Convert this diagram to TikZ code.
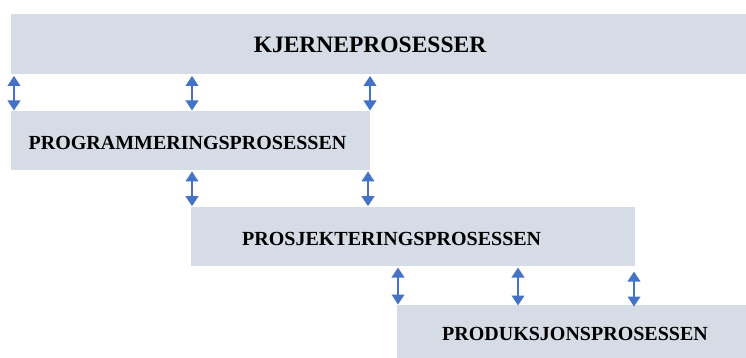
\documentclass[tikz,border=0pt]{standalone}
\usepackage{fontspec}
\setmainfont{Liberation Serif}
\usetikzlibrary{arrows.meta}
\definecolor{boxfill}{HTML}{D6DCE5}
\definecolor{linkblue}{HTML}{4472C4}
\begin{document}
\begin{tikzpicture}[x=1pt,y=-1pt,
  procbox/.style={fill=boxfill,draw=none,inner sep=0pt,anchor=north west},
  proclabel/.style={font=\bfseries\fontsize{20}{24}\selectfont,inner sep=0pt},
  biglabel/.style={font=\bfseries\fontsize{23.5}{28}\selectfont,inner sep=0pt},
  link/.style={draw=linkblue,line width=2.3pt,
    {Triangle[width=12.5pt,length=10pt]}-{Triangle[width=12.5pt,length=10pt]},
    shorten <=1.5pt,shorten >=0.5pt}]
\useasboundingbox (0,0) rectangle (746,358);

% process bands
\node[procbox,minimum width=735pt,minimum height=60pt] (core) at (11,14) {};
\node[procbox,minimum width=359pt,minimum height=58.5pt] (prog) at (11,111) {};
\node[procbox,minimum width=444pt,minimum height=59pt] (proj) at (191,206.7) {};
\node[procbox,minimum width=349pt,minimum height=53pt] (prod) at (397,305) {};

% band titles
\node[biglabel] (coret) at (370,45) {KJERNEPROSESSER};
\node[proclabel] (progt) at (187.5,143.3) {PROGRAMMERINGSPROSESSEN};
\node[proclabel] (projt) at (391.7,239.2) {PROSJEKTERINGSPROSESSEN};
\node[proclabel] (prodt) at (575,333.8) {PRODUKSJONSPROSESSEN};

% two-way links between bands
\draw[link] (14,0 |- core.south) -- (14,0 |- prog.north);
\draw[link] (192,0 |- core.south) -- (192,0 |- prog.north);
\draw[link] (370,0 |- core.south) -- (370,0 |- prog.north);

\draw[link] (192,0 |- prog.south) -- (192,0 |- proj.north);
\draw[link] (368,0 |- prog.south) -- (368,0 |- proj.north);

\draw[link] (398,0 |- proj.south) -- (398,0 |- prod.north);
\draw[link] (518,0 |- proj.south) -- ([yshift=-1pt]518,0 |- prod.north);
\draw[link] ([yshift=-4pt]634,0 |- proj.south) -- ([yshift=-2pt]634,0 |- prod.north);
\end{tikzpicture}
\end{document}
